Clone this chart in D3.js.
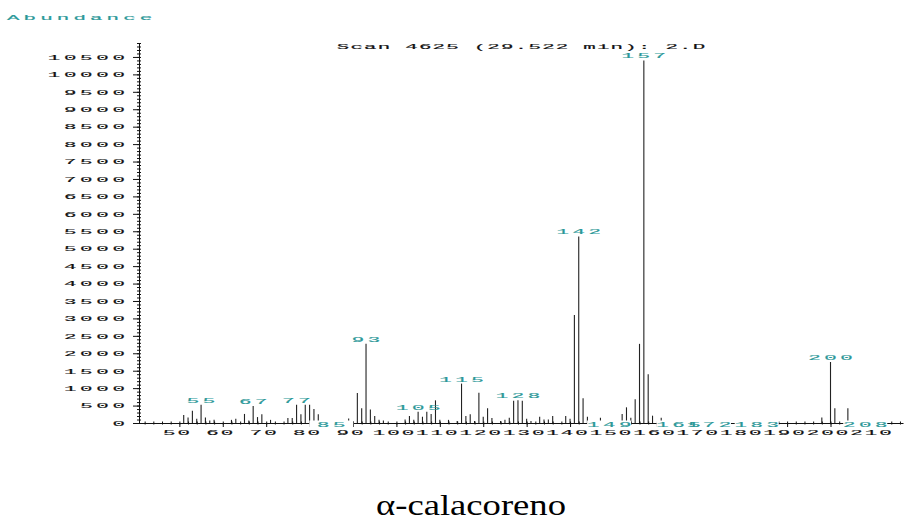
<!DOCTYPE html>
<html><head><meta charset="utf-8">
<script src="https://cdn.jsdelivr.net/npm/d3@7"></script>
<style>html,body{margin:0;padding:0;background:#fff;}svg{display:block;}</style>
</head><body>
<script>
// ---- data ----
const mz = [51,52,53,54,55,56,57,58,62,63,65,66,67,68,69,71,75,76,77,78,79,80,81,82,
  89,90,91,92,93,94,95,96,97,102,103,104,105,106,107,108,109,110,112,114,115,116,117,118,119,120,121,122,
  124,125,126,127,128,129,130,131,133,134,135,136,139,140,141,142,143,144,147,
  152,153,154,155,156,157,158,159,161,198,200,201,204];
const abundance = [230,160,350,120,520,160,70,90,90,120,260,70,490,170,250,90,140,140,520,250,520,520,400,250,
  130,60,860,420,2270,390,200,90,70,100,200,90,320,180,320,260,650,90,90,60,1130,200,250,60,870,180,420,140,
  60,90,150,640,650,640,120,60,180,100,100,200,200,120,3100,5350,710,180,150,
  260,450,150,680,2270,10400,1400,210,150,160,1750,420,420];
const peakLabels = [55,67,77,93,105,115,128,142,157,200];
const baselineLabels = [85,149,165,172,183,208];
const yTickValues = d3.range(0, 10501, 500);
const yMinorValues = d3.range(0, 10901, 100);
const xTickValues = d3.range(50, 211, 10);
const xMinorValues = d3.range(42, 217, 2);
const yAxisTitle = "Abundance";
const scanTitle = "Scan 4625 (29.522 min): 2.D";
const compound = "\u03B1-calacoreno";

// ---- layout ----
const W = 904, H = 523;
const teal = "#2b9898";
const svg = d3.select("body").append("svg").attr("width", W).attr("height", H);

const x = d3.scaleLinear().domain([40.7, 216.7]).range([139, 903]);
const y = d3.scaleLinear().domain([0, 10900]).range([423, 43]);

const SX = 2.6, FS = 8, ADV0 = 4.8; // Liberation Mono advance at 8px
function sText(g, str, px, py, anchor, color, adv) {
  const ls = (adv - ADV0 * SX) / SX;
  let shift = 0;
  if (anchor === "middle") shift = ls * SX / 2;
  if (anchor === "end") shift = ls * SX;
  return g.append("text")
    .attr("transform", `translate(${px + shift},${py}) scale(${SX},1)`)
    .attr("text-anchor", anchor)
    .attr("font-family", "Liberation Mono, DejaVu Sans Mono, monospace")
    .attr("font-size", FS)
    .attr("letter-spacing", ls)
    .attr("fill", color)
    .attr("stroke", color).attr("stroke-width", 0.15)
    .text(str);
}

// peaks
const peaks = mz.map((m, i) => ({m, v: abundance[i]}));
svg.append("g").selectAll("line").data(peaks).join("line")
  .attr("x1", d => x(d.m)).attr("x2", d => x(d.m))
  .attr("y1", y(0)).attr("y2", d => y(d.v))
  .attr("stroke", "#222").attr("stroke-width", 1.1);

// x axis
const xAxis = svg.append("g").attr("transform", `translate(0,${y(0)})`);
xAxis.call(d3.axisBottom(x).tickValues(xTickValues).tickSize(4).tickSizeOuter(0).tickFormat(""));
xAxis.select(".domain").attr("stroke", "#111");
xAxis.selectAll(".tick line").attr("stroke", "#111");
const xMinor = svg.append("g").attr("transform", `translate(0,${y(0) - 1.5})`);
xMinor.call(d3.axisBottom(x).tickValues(xMinorValues).tickSize(3).tickSizeOuter(0).tickFormat(""));
xMinor.select(".domain").remove();
xMinor.selectAll(".tick line").attr("stroke", "#111");
const xl = svg.append("g");
xTickValues.forEach(v => sText(xl, String(v), x(v) - 3, 435, "middle", "#111", 14.5));

// y axis
const yAxis = svg.append("g").attr("transform", `translate(139,0)`);
yAxis.call(d3.axisLeft(y).tickValues(yTickValues).tickSize(6).tickSizeOuter(0).tickFormat(""));
yAxis.select(".domain").attr("stroke", "#111");
yAxis.selectAll(".tick line").attr("stroke", "#111");
const yMinor = svg.append("g").attr("transform", `translate(141,0)`);
yMinor.call(d3.axisLeft(y).tickValues(yMinorValues).tickSize(4).tickSizeOuter(0).tickFormat(""));
yMinor.select(".domain").remove();
yMinor.selectAll(".tick line").attr("stroke", "#111");
const yl = svg.append("g");
yTickValues.forEach(v => sText(yl, String(v), 125, y(v) + 2.8, "end", "#111", 16.2));

// peak labels
const pl = svg.append("g");
const valOf = m => abundance[mz.indexOf(m)];
peakLabels.forEach(m => sText(pl, String(m), x(m), y(valOf(m)) - 2, "middle", teal, 16));
// baseline labels with white background
const bl = svg.append("g");
baselineLabels.forEach(m => {
  bl.append("rect").attr("x", x(m) - 22).attr("y", 420.5).attr("width", 44).attr("height", 7).attr("fill", "#fff");
});
baselineLabels.forEach(m => sText(bl, String(m), x(m), 427, "middle", teal, 16));

// titles
sText(svg, yAxisTitle, 7, 20, "start", teal, 16.6);
sText(svg, scanTitle, 521, 49, "middle", "#111", 13.7);

svg.append("text").attr("x", 471).attr("y", 515)
  .attr("text-anchor", "middle")
  .attr("font-family", "Liberation Serif, Times New Roman, serif")
  .attr("font-size", 30)
  .attr("textLength", 190).attr("lengthAdjust", "spacingAndGlyphs")
  .attr("fill", "#000")
  .text(compound);
</script>
</body></html>
